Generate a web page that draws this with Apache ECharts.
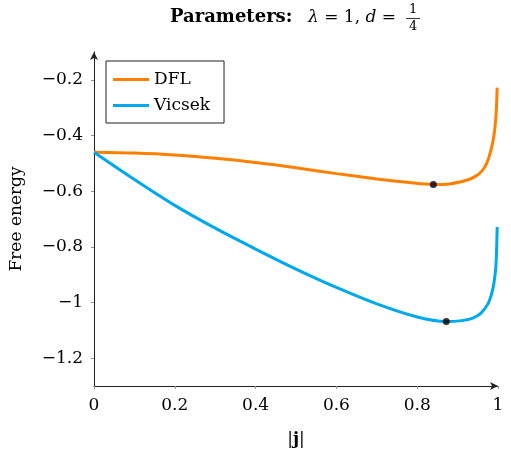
<!DOCTYPE html>
<html>
<head>
<meta charset="utf-8">
<script src="https://cdn.jsdelivr.net/npm/echarts@6/dist/echarts.min.js"></script>
<style>
  html, body { margin: 0; padding: 0; background: #fff; }
  #chart { width: 511px; height: 455px; }
</style>
</head>
<body>
<div id="chart"></div>
<script>
// values
var dflJ = [0, 0.1, 0.2, 0.3, 0.4, 0.5, 0.6, 0.7, 0.78, 0.84, 0.874, 0.924, 0.945, 0.96, 0.972, 0.982, 0.99, 0.995, 0.998];
var dflF = [-0.460, -0.463, -0.470, -0.482, -0.497, -0.516, -0.537, -0.556, -0.569, -0.576, -0.575, -0.560, -0.546, -0.528, -0.500, -0.456, -0.400, -0.330, -0.228];
var vicsekJ = [0, 0.1, 0.2, 0.3, 0.4, 0.5, 0.6, 0.7, 0.8, 0.872, 0.905, 0.936, 0.958, 0.975, 0.984, 0.99, 0.995, 0.998];
var vicsekF = [-0.460, -0.558, -0.651, -0.733, -0.808, -0.880, -0.946, -1.005, -1.052, -1.068, -1.066, -1.057, -1.038, -1.005, -0.970, -0.930, -0.865, -0.729];
var minJ = [0.84, 0.872];
var minF = [-0.576, -1.068];
var xTicks = [0, 0.2, 0.4, 0.6, 0.8, 1];
var yTicks = [-1.2, -1, -0.8, -0.6, -0.4, -0.2];

var serif = "'DejaVu Serif', 'Liberation Serif', serif";

function zip(a, b) {
  var out = [];
  for (var i = 0; i < a.length; i++) out.push([a[i], b[i]]);
  return out;
}
function fmt(v) {
  return String(v).replace('-', '\u2212');
}

var chart = echarts.init(document.getElementById('chart'));
var option = {
  animation: false,
  backgroundColor: '#fff',
  grid: { left: 94, right: 13, top: 52, bottom: 69 },
  graphic: [
    { type: 'text', left: 170, top: 8, style: { text: 'Parameters:', font: 'bold 18px ' + serif, fill: '#000' } },
    {
      type: 'text', left: 308, top: 9,
      style: {
        text: '{i|\u03bb} = 1, {i|d} =',
        font: '17px ' + serif, fill: '#000',
        rich: { i: { fontStyle: 'italic', fontSize: 17, fontFamily: serif } }
      }
    },
    { type: 'text', left: 409, top: 3, style: { text: '1', font: '13px ' + serif, fill: '#000' } },
    { type: 'line', shape: { x1: 406, y1: 18.5, x2: 420, y2: 18.5 }, style: { stroke: '#000', lineWidth: 0.8 } },
    { type: 'text', left: 409, top: 20, style: { text: '4', font: '13px ' + serif, fill: '#000' } }
  ],
  legend: {
    left: 106, top: 61,
    orient: 'vertical',
    padding: [10, 14, 9, 7],
    itemGap: 9,
    itemWidth: 36, itemHeight: 3,
    icon: 'rect',
    borderColor: '#222', borderWidth: 1,
    textStyle: { fontFamily: serif, fontSize: 17, color: '#000' },
    data: ['DFL', 'Vicsek']
  },
  xAxis: {
    type: 'value', min: 0, max: 1,
    name: '|{n|j}|', nameLocation: 'middle', nameGap: 45,
    nameTextStyle: {
      fontFamily: serif, fontSize: 17, color: '#000',
      rich: { n: { fontWeight: 'bold', fontFamily: serif, fontSize: 17 } }
    },
    axisLine: { onZero: false, symbol: ['none', 'arrow'], symbolSize: [6, 8], lineStyle: { color: '#222', width: 1 } },
    axisTick: { length: 3, lineStyle: { color: '#999' }, customValues: xTicks },
    axisLabel: { fontFamily: serif, fontSize: 17, color: '#000', margin: 11, customValues: xTicks, formatter: fmt },
    splitLine: { show: false }
  },
  yAxis: {
    type: 'value', min: -1.3, max: -0.1,
    name: 'Free energy', nameLocation: 'middle', nameGap: 69, nameRotate: 90,
    nameTextStyle: { fontFamily: serif, fontSize: 17, color: '#000' },
    axisLine: { show: true, symbol: ['none', 'arrow'], symbolSize: [6, 8], lineStyle: { color: '#222', width: 1 } },
    axisTick: { show: true, length: 3, lineStyle: { color: '#999' }, customValues: yTicks },
    axisLabel: { fontFamily: serif, fontSize: 17, color: '#000', margin: 11, customValues: yTicks, formatter: fmt },
    splitLine: { show: false }
  },
  series: [
    {
      name: 'DFL', type: 'line', data: zip(dflJ, dflF),
      smooth: 0.3, showSymbol: false, clip: false,
      itemStyle: { color: '#ff8000' },
      lineStyle: { color: '#ff8000', width: 3 }
    },
    {
      name: 'Vicsek', type: 'line', data: zip(vicsekJ, vicsekF),
      smooth: 0.3, showSymbol: false, clip: false,
      itemStyle: { color: '#00a8ec' },
      lineStyle: { color: '#00a8ec', width: 3 }
    },
    {
      name: 'minima', type: 'scatter', data: zip(minJ, minF),
      symbolSize: 7, itemStyle: { color: '#000' }, z: 5
    }
  ]
};
chart.setOption(option);
</script>
</body>
</html>
